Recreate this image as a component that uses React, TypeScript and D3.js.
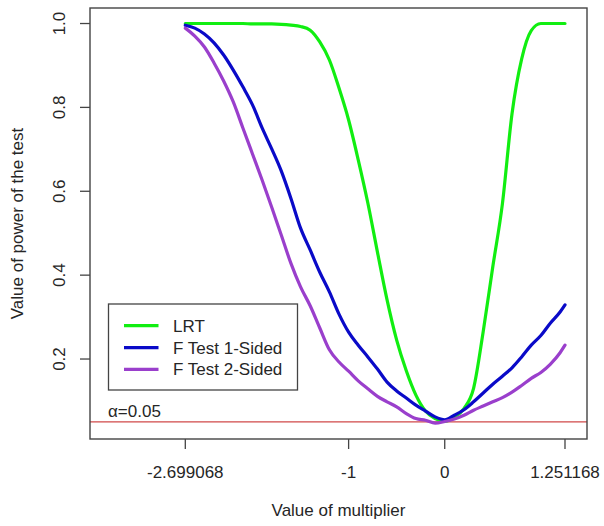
import React from "react";
import * as d3 from "d3";

// Multiplier values at which the power was evaluated
const multiplier = [
  -2.699068, -2.6, -2.5, -2.4, -2.3, -2.2, -2.1, -2.0, -1.9, -1.8, -1.7, -1.6, -1.5,
  -1.4, -1.3, -1.2, -1.1, -1.0, -0.9, -0.8, -0.7, -0.6, -0.5, -0.4, -0.3, -0.2, -0.1,
  0.0, 0.1, 0.2, 0.3, 0.4, 0.5, 0.6, 0.7, 0.8, 0.9, 1.0, 1.1, 1.2, 1.251168,
];

// Power of the likelihood ratio test
const powerLRT = [
  1.0, 1.0, 1.0, 1.0, 1.0, 1.0, 1.0, 0.999, 0.999, 0.999, 0.998, 0.996, 0.993,
  0.984, 0.956, 0.913, 0.846, 0.77, 0.675, 0.572, 0.455, 0.341, 0.245, 0.172, 0.114, 0.076, 0.058,
  0.052, 0.061, 0.082, 0.13, 0.265, 0.42, 0.57, 0.785, 0.915, 0.983, 1.0, 1.0, 1.0, 1.0,
];

// Power of the one-sided F test
const powerF1 = [
  0.996, 0.989, 0.975, 0.954, 0.925, 0.889, 0.849, 0.806, 0.751, 0.701, 0.648, 0.583, 0.512,
  0.46, 0.407, 0.36, 0.307, 0.264, 0.233, 0.205, 0.176, 0.145, 0.124, 0.107, 0.09, 0.076, 0.062,
  0.055, 0.066, 0.079, 0.098, 0.119, 0.14, 0.159, 0.179, 0.205, 0.233, 0.256, 0.286, 0.312, 0.329,
];

// Power of the two-sided F test
const powerF2 = [
  0.989, 0.97, 0.944, 0.906, 0.863, 0.813, 0.751, 0.689, 0.627, 0.562, 0.495, 0.428, 0.372,
  0.327, 0.274, 0.222, 0.193, 0.171, 0.148, 0.129, 0.111, 0.098, 0.086, 0.07, 0.058, 0.054, 0.047,
  0.051, 0.057, 0.066, 0.078, 0.088, 0.098, 0.108, 0.121, 0.137, 0.154, 0.168, 0.188, 0.215, 0.233,
];

const xTicks = [-2.699068, -1, 0, 1.251168];
const xTickLabels = ["-2.699068", "-1", "0", "1.251168"];
const yTicks = [0.2, 0.4, 0.6, 0.8, 1.0];
const yTickLabels = ["0.2", "0.4", "0.6", "0.8", "1.0"];

const seriesNames = ["LRT", "F Test 1-Sided", "F Test 2-Sided"];
const seriesColors = ["#11ee11", "#0a0ac8", "#9a3fcc"];
const alpha = 0.05;

const W = 604;
const H = 526;
const box = { left: 90, right: 587, top: 8, bottom: 439 };
const FONT = "'Liberation Sans', Arial, sans-serif";
const TEXT = "#262626";

export default function App() {
  const x = d3.scaleLinear().domain([-3.6906, 1.4801]).range([box.left, box.right]);
  const y = d3.scaleLinear().domain([0.0093, 1.037]).range([box.bottom, box.top]);

  const series = [powerLRT, powerF1, powerF2];
  const line = d3
    .line<number>()
    .x((_, i) => x(multiplier[i]))
    .y((d) => y(d))
    .curve(d3.curveMonotoneX);

  const legendX = 108.5;
  const legendY = 304;
  const rowY = [325.7, 347.7, 369.3];

  return (
    <svg
      width={W}
      height={H}
      style={{ position: "absolute", left: 0, top: 0, background: "#fff" }}
      fontFamily={FONT}
    >
      <rect x={0} y={0} width={W} height={H} fill="#fff" />

      {/* significance level */}
      <line
        x1={box.left}
        x2={box.right}
        y1={y(alpha)}
        y2={y(alpha)}
        stroke="#d04848"
        strokeWidth={1.3}
      />
      <text x={108} y={416.5} fontSize={17} fill={TEXT}>
        α=0.05
      </text>

      {/* power curves */}
      {series.map((s, k) => (
        <path
          key={seriesNames[k]}
          d={line(s) ?? ""}
          fill="none"
          stroke={seriesColors[k]}
          strokeWidth={3.2}
          strokeLinejoin="round"
          strokeLinecap="round"
        />
      ))}

      {/* plot frame */}
      <rect
        x={box.left}
        y={box.top}
        width={box.right - box.left}
        height={box.bottom - box.top}
        fill="none"
        stroke="#444"
        strokeWidth={1.4}
      />

      {/* x axis */}
      {xTicks.map((t, i) => (
        <g key={"xt" + i}>
          <line x1={x(t)} x2={x(t)} y1={box.bottom} y2={box.bottom + 10} stroke="#444" strokeWidth={1.3} />
          <text x={x(t)} y={478} fontSize={17} textAnchor="middle" fill={TEXT}>
            {xTickLabels[i]}
          </text>
        </g>
      ))}

      {/* y axis */}
      {yTicks.map((t, i) => (
        <g key={"yt" + i}>
          <line x1={box.left - 10} x2={box.left} y1={y(t)} y2={y(t)} stroke="#444" strokeWidth={1.3} />
          <text
            transform={`translate(65,${y(t)}) rotate(-90)`}
            fontSize={17}
            textAnchor="middle"
            fill={TEXT}
          >
            {yTickLabels[i]}
          </text>
        </g>
      ))}

      {/* axis titles */}
      <text x={(box.left + box.right) / 2} y={516} fontSize={17} textAnchor="middle" fill={TEXT}>
        Value of multiplier
      </text>
      <text
        transform={`translate(23,${(box.top + box.bottom) / 2}) rotate(-90)`}
        fontSize={17}
        textAnchor="middle"
        fill={TEXT}
      >
        Value of power of the test
      </text>

      {/* legend */}
      <rect x={legendX} y={legendY} width={189} height={86} fill="#fff" stroke="#444" strokeWidth={1.3} />
      {seriesNames.map((n, k) => (
        <g key={"lg" + n}>
          <line x1={124} x2={158.5} y1={rowY[k]} y2={rowY[k]} stroke={seriesColors[k]} strokeWidth={3.2} />
          <text x={173} y={rowY[k] + 6} fontSize={17} fill={TEXT}>
            {n}
          </text>
        </g>
      ))}
    </svg>
  );
}
